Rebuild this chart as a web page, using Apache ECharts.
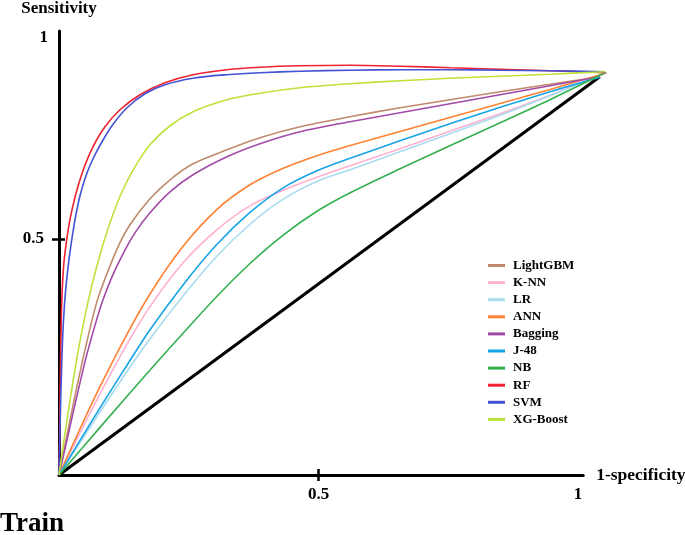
<!DOCTYPE html>
<html><head><meta charset="utf-8">
<script src="https://cdn.jsdelivr.net/npm/echarts@6/dist/echarts.min.js"></script>
<style>html,body{margin:0;padding:0;background:#fff}#c{width:685px;height:535px}</style>
</head><body><div id="c"></div>
<script>
// ---- data (x = 1-specificity, y = sensitivity) ----
const seriesNames = ['LightGBM', 'K-NN', 'LR', 'ANN', 'Bagging', 'J-48', 'NB', 'RF', 'SVM', 'XG-Boost'];

const lightgbm = [[0,0],[0.0135,0.0742],[0.0308,0.1674],[0.0501,0.2648],[0.0713,0.3602],[0.0886,0.4153],[0.1137,0.4831],[0.1368,0.5297],[0.1753,0.5847],[0.2139,0.625],[0.2582,0.6589],[0.3237,0.6886],[0.3873,0.714],[0.4644,0.7373],[0.5607,0.7585],[0.657,0.7775],[0.7534,0.7945],[0.8497,0.8114],[0.946,0.8273],[1.0424,0.8432]];
const knn = [[0,0],[0.0405,0.089],[0.079,0.1716],[0.127,0.2691],[0.175,0.3559],[0.239,0.4492],[0.304,0.5191],[0.368,0.5699],[0.432,0.6028],[0.497,0.6303],[0.561,0.6547],[0.657,0.6907],[0.753,0.7278],[0.850,0.7648],[0.946,0.804],[1.056,0.8517]];
const lr = [[0,0],[0.0405,0.0689],[0.079,0.1333],[0.127,0.2127],[0.175,0.2879],[0.239,0.3788],[0.304,0.4631],[0.368,0.5309],[0.432,0.5841],[0.497,0.6216],[0.561,0.6462],[0.657,0.6843],[0.753,0.7225],[0.850,0.7617],[0.946,0.803],[1.052,0.8506]];
const ann = [[0,0],[0.0405,0.0979],[0.079,0.1869],[0.127,0.29],[0.175,0.3826],[0.239,0.4841],[0.304,0.5619],[0.368,0.6144],[0.432,0.6494],[0.497,0.6761],[0.561,0.6977],[0.657,0.7273],[0.753,0.757],[0.850,0.7867],[0.946,0.8163],[1.048,0.8489]];
const bagging = [[0,0],[0.0154,0.0742],[0.0328,0.1589],[0.052,0.2479],[0.0713,0.3242],[0.0848,0.3708],[0.1021,0.4195],[0.1233,0.4682],[0.1464,0.5127],[0.1753,0.5551],[0.2139,0.5996],[0.2582,0.6356],[0.3237,0.6737],[0.3873,0.7013],[0.4644,0.7267],[0.5607,0.7479],[0.657,0.7669],[0.7534,0.786],[0.8497,0.8051],[0.946,0.8242],[1.0424,0.8432]];
const j48 = [[0,0],[0.0405,0.0733],[0.079,0.142],[0.127,0.2256],[0.175,0.307],[0.239,0.4025],[0.304,0.488],[0.368,0.556],[0.432,0.608],[0.497,0.644],[0.561,0.6706],[0.657,0.7076],[0.753,0.7436],[0.850,0.7786],[0.946,0.8114],[1.042,0.8422]];
const nb = [[0,0],[0.079,0.1008],[0.175,0.2216],[0.239,0.3],[0.304,0.3778],[0.368,0.4477],[0.432,0.5078],[0.497,0.5583],[0.561,0.5975],[0.657,0.6483],[0.753,0.697],[0.850,0.7458],[0.946,0.7945],[1.054,0.8525]];
const rf = [[0,0],[0.001,0.0742],[0.0019,0.1589],[0.0033,0.2648],[0.0048,0.3496],[0.0067,0.4025],[0.0096,0.4513],[0.0135,0.4873],[0.0183,0.5233],[0.025,0.5614],[0.0347,0.6038],[0.0482,0.6504],[0.0655,0.6949],[0.0886,0.7373],[0.1175,0.7733],[0.1561,0.8051],[0.2042,0.8305],[0.2582,0.8475],[0.3237,0.8581],[0.3873,0.8633],[0.4644,0.8665],[0.5607,0.8676],[0.657,0.8655],[0.7534,0.8623],[0.8497,0.8591],[0.946,0.8559],[1.052,0.8517]];
const svm = [[0,0],[0.0015,0.0742],[0.0033,0.1589],[0.0058,0.2542],[0.0087,0.3284],[0.0125,0.3877],[0.0173,0.4386],[0.0231,0.4873],[0.0308,0.5403],[0.0405,0.5911],[0.052,0.6335],[0.0655,0.6695],[0.0829,0.7055],[0.1021,0.7394],[0.131,0.7775],[0.1657,0.8072],[0.2042,0.8263],[0.2582,0.8401],[0.3237,0.8475],[0.3873,0.8517],[0.4644,0.8549],[0.5607,0.857],[0.657,0.8581],[0.7534,0.8581],[0.8497,0.857],[0.946,0.8559],[1.052,0.8538]];
const xgboost = [[0,0],[0.0077,0.0593],[0.0154,0.1165],[0.025,0.1843],[0.0366,0.2606],[0.0501,0.3369],[0.0636,0.4025],[0.079,0.4661],[0.0983,0.5339],[0.1214,0.5996],[0.1464,0.6525],[0.1753,0.6992],[0.2139,0.7394],[0.2582,0.7691],[0.3237,0.7945],[0.3873,0.8083],[0.4644,0.8199],[0.5607,0.8284],[0.657,0.8347],[0.7534,0.84],[0.8497,0.8443],[0.946,0.8485],[1.052,0.8538]];
const chanceLine = [[0,0],[1.042,0.843]];

const xTickValues = [0.5, 1];
const xTickLabels = ['0.5', '1'];
const yTickValues = [0.5, 0.926];
const yTickLabels = ['0.5', '1'];

// ---- styles ----
const seriesData = [lightgbm, knn, lr, ann, bagging, j48, nb, rf, svm, xgboost];
const colors = ['#c08a6c', '#ffb0cf', '#a8dcee', '#ff8232', '#a24aa8', '#16a4e6', '#34b04e', '#ee2230', '#4452d6', '#bde23a'];
const FONT = '"Liberation Serif", "Times New Roman", serif';
const PX_PER_UNIT = 519;           // horizontal scale shared by both grids
const LEFT = 59, CHART_W = 685;
const AXIS_MAX = 1.01, DRAW_MAX = 1.08;

const series = seriesNames.map((n, i) => ({
  name: n, type: 'line', data: seriesData[i], smooth: 0.3, showSymbol: false,
  xAxisIndex: 2, yAxisIndex: 2,
  clip: false, color: colors[i], lineStyle: { width: 1.6, color: colors[i] }, z: 3
}));
series.push({
  name: 'chance', type: 'line', data: chanceLine, showSymbol: false, clip: false,
  xAxisIndex: 2, yAxisIndex: 2,
  lineStyle: { width: 3, color: '#000' }, z: 2, silent: true
});

const labelStyle = { color: '#000', fontFamily: FONT, fontWeight: 'bold', fontSize: 17 };
const tickStyle = { color: '#000', width: 2.5 };
const chart = echarts.init(document.getElementById('c'));
chart.setOption({
  animation: false,
  backgroundColor: '#fff',
  grid: [
    { left: LEFT, right: CHART_W - LEFT - AXIS_MAX * PX_PER_UNIT, top: 31, bottom: 60, containLabel: false, outerBoundsMode: 'none' },
    { left: LEFT, right: CHART_W - LEFT - DRAW_MAX * PX_PER_UNIT, top: 31, bottom: 60, containLabel: false, outerBoundsMode: 'none' }
  ],
  legend: {
    data: seriesNames, orient: 'vertical', left: 488, top: 259, padding: 0,
    icon: 'rect', itemWidth: 17, itemHeight: 3, itemGap: 4.1,
    textStyle: { color: '#000', fontFamily: FONT, fontWeight: 'bold', fontSize: 13, padding: [0, 0, 0, 3] }
  },
  xAxis: [{
    gridIndex: 0, type: 'value', min: 0, max: AXIS_MAX, position: 'bottom',
    axisLine: { onZero: false, lineStyle: { color: '#000', width: 3 } },
    axisTick: { show: true, customValues: [0.5], length: 6, lineStyle: tickStyle },
    axisLabel: { customValues: xTickValues, formatter: v => xTickLabels[xTickValues.indexOf(v)], margin: 11, ...labelStyle },
    splitLine: { show: false },
    name: '1-specificity', nameLocation: 'end', nameGap: 13,
    nameTextStyle: { ...labelStyle, fontSize: 17.5, padding: [4, 0, 0, 0] }
  }, {
    gridIndex: 0, type: 'value', min: 0, max: AXIS_MAX, position: 'bottom',
    axisLine: { show: false, onZero: false },
    axisTick: { show: true, inside: true, customValues: [0.5], length: 6, lineStyle: tickStyle },
    axisLabel: { show: false }, splitLine: { show: false }
  }, {
    gridIndex: 1, type: 'value', min: 0, max: DRAW_MAX, show: false
  }],
  yAxis: [{
    gridIndex: 0, type: 'value', min: 0, max: 0.94, position: 'left',
    axisLine: { onZero: false, lineStyle: { color: '#000', width: 3 } },
    axisTick: { show: true, customValues: [0.5], length: 7, lineStyle: tickStyle },
    axisLabel: {
      customValues: yTickValues, margin: 11,
      formatter: v => { const t = yTickLabels[yTickValues.indexOf(v)]; return t === '0.5' ? '{h|' + t + '}' : '{o|' + t + '}'; },
      rich: { h: { ...labelStyle, padding: [0, 4, 0, 0] }, o: { ...labelStyle } },
      ...labelStyle
    },
    splitLine: { show: false },
    name: 'Sensitivity', nameLocation: 'end', nameGap: 14,
    nameTextStyle: { ...labelStyle, fontSize: 17 }
  }, {
    gridIndex: 0, type: 'value', min: 0, max: 0.94, position: 'left',
    axisLine: { show: false, onZero: false },
    axisTick: { show: true, inside: true, customValues: [0.5], length: 6, lineStyle: tickStyle },
    axisLabel: { show: false }, splitLine: { show: false }
  }, {
    gridIndex: 1, type: 'value', min: 0, max: 0.94, show: false
  }],
  graphic: [{
    type: 'text', left: 0, top: 511,
    style: { text: 'Train', font: 'bold 27px "Liberation Serif", "Times New Roman", serif', fill: '#000' }
  }],
  series: series
});
</script>
</body></html>
